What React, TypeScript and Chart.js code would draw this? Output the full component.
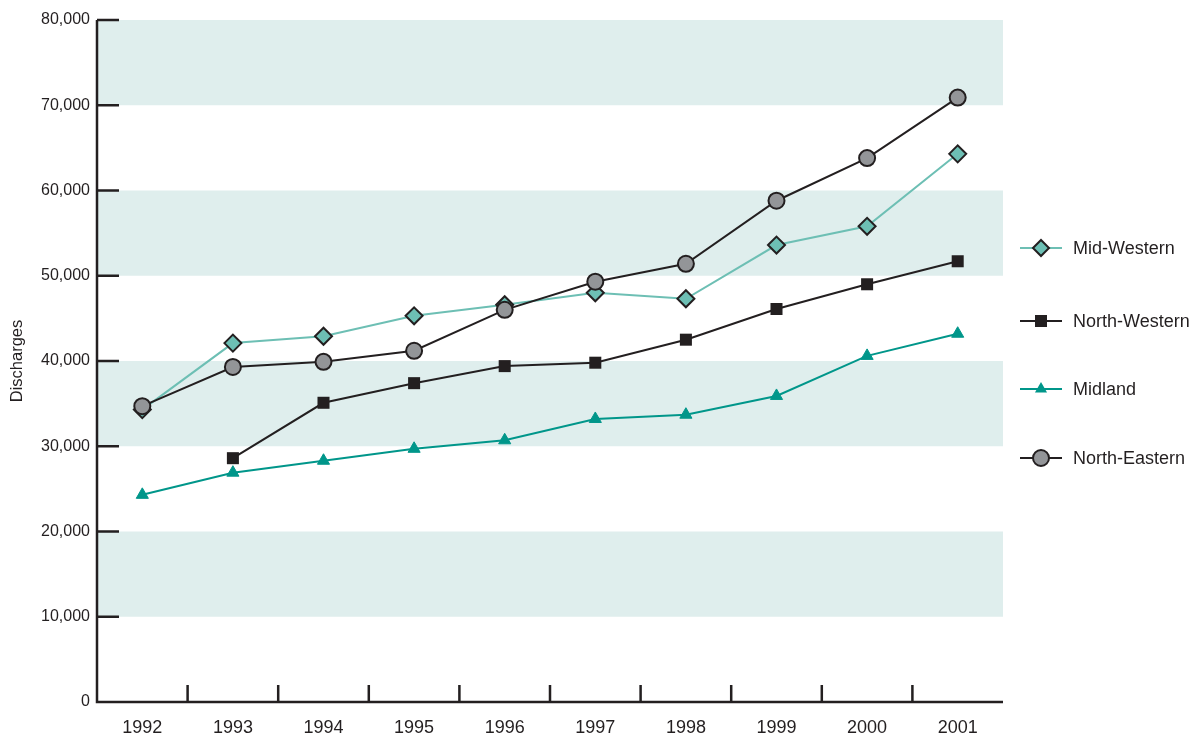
import React, { useEffect, useRef } from "react";
import { Chart, registerables } from "chart.js";

Chart.register(...registerables);

const years = ["1992", "1993", "1994", "1995", "1996", "1997", "1998", "1999", "2000", "2001"];
const midWestern = [34300, 42100, 42900, 45300, 46600, 48000, 47300, 53600, 55800, 64300];
const northWestern = [null, 28600, 35100, 37400, 39400, 39800, 42500, 46100, 49000, 51700];
const midland = [24300, 26900, 28300, 29700, 30700, 33200, 33700, 35900, 40600, 43200];
const northEastern = [34700, 39300, 39900, 41200, 46000, 49300, 51400, 58800, 63800, 70900];
const bands = [
  [10000, 20000],
  [30000, 40000],
  [50000, 60000],
  [70000, 80000],
];
const yTicks = [10000, 20000, 30000, 40000, 50000, 60000, 70000, 80000];

const DARK = "#231f20";
const TEAL_LIGHT = "#6dbfb4";
const TEAL_DARK = "#00968a";
const GRAY = "#939598";
const BAND = "#dfeeed";
const FONT = "'Liberation Sans Narrow', 'Liberation Sans', Arial, sans-serif";

type LegendItem = { label: string; color: string; fill: string; shape: string; r: number; y: number };
const legendItems: LegendItem[] = [
  { label: "Mid-Western", color: TEAL_LIGHT, fill: TEAL_LIGHT, shape: "diamond", r: 8, y: 248 },
  { label: "North-Western", color: DARK, fill: DARK, shape: "square", r: 6, y: 321 },
  { label: "Midland", color: TEAL_DARK, fill: TEAL_DARK, shape: "triangle", r: 7, y: 389 },
  { label: "North-Eastern", color: DARK, fill: GRAY, shape: "circle", r: 8, y: 458 },
];

const decoPlugin = {
  id: "deco",
  beforeDatasetsDraw(chart: any) {
    const { ctx, chartArea } = chart;
    const y = chart.scales.y;
    ctx.save();
    ctx.fillStyle = BAND;
    bands.forEach(([a, b]) => {
      const y1 = y.getPixelForValue(b);
      const y2 = y.getPixelForValue(a);
      ctx.fillRect(chartArea.left, y1, chartArea.right - chartArea.left, y2 - y1);
    });
    ctx.restore();
  },
  afterDatasetsDraw(chart: any) {
    const { ctx, chartArea } = chart;
    const x = chart.scales.x;
    const y = chart.scales.y;
    ctx.save();
    ctx.strokeStyle = DARK;
    ctx.lineWidth = 2.5;
    ctx.beginPath();
    ctx.moveTo(chartArea.left, chartArea.top);
    ctx.lineTo(chartArea.left, chartArea.bottom);
    ctx.lineTo(chartArea.right, chartArea.bottom);
    ctx.stroke();
    ctx.beginPath();
    yTicks.forEach((v) => {
      const py = y.getPixelForValue(v);
      ctx.moveTo(chartArea.left, py);
      ctx.lineTo(chartArea.left + 22, py);
    });
    for (let i = 1; i < years.length; i++) {
      const px = (x.getPixelForValue(i - 1) + x.getPixelForValue(i)) / 2;
      ctx.moveTo(px, chartArea.bottom);
      ctx.lineTo(px, chartArea.bottom - 17);
    }
    ctx.stroke();

    // y title
    ctx.fillStyle = DARK;
    ctx.font = `16.5px ${FONT}`;
    ctx.textAlign = "center";
    ctx.textBaseline = "middle";
    ctx.save();
    ctx.translate(17, 361);
    ctx.rotate(-Math.PI / 2);
    ctx.fillText("Discharges", 0, 0);
    ctx.restore();

    // legend
    legendItems.forEach((it) => {
      const cx = 1041;
      const cy = it.y;
      ctx.strokeStyle = it.color;
      ctx.lineWidth = 2;
      ctx.beginPath();
      ctx.moveTo(1020, cy);
      ctx.lineTo(1062, cy);
      ctx.stroke();
      ctx.fillStyle = it.fill;
      ctx.strokeStyle = DARK;
      ctx.lineWidth = 2;
      ctx.beginPath();
      if (it.shape === "diamond") {
        ctx.moveTo(cx - it.r, cy);
        ctx.lineTo(cx, cy - it.r);
        ctx.lineTo(cx + it.r, cy);
        ctx.lineTo(cx, cy + it.r);
        ctx.closePath();
        ctx.fill();
        ctx.stroke();
      } else if (it.shape === "square") {
        ctx.rect(cx - it.r, cy - it.r, it.r * 2, it.r * 2);
        ctx.fill();
      } else if (it.shape === "triangle") {
        ctx.moveTo(cx, cy - it.r);
        ctx.lineTo(cx + it.r * 0.866, cy + it.r * 0.5);
        ctx.lineTo(cx - it.r * 0.866, cy + it.r * 0.5);
        ctx.closePath();
        ctx.fill();
      } else {
        ctx.arc(cx, cy, it.r, 0, Math.PI * 2);
        ctx.fill();
        ctx.stroke();
      }
      ctx.fillStyle = DARK;
      ctx.font = `18px ${FONT}`;
      ctx.textAlign = "left";
      ctx.textBaseline = "middle";
      ctx.fillText(it.label, 1073, cy + 1);
    });
    ctx.restore();
  },
};

export default function App() {
  const ref = useRef<HTMLCanvasElement | null>(null);
  useEffect(() => {
    if (!ref.current) return;
    const chart = new Chart(ref.current, {
      type: "line",
      data: {
        labels: years,
        datasets: [
          {
            label: "North-Eastern",
            data: northEastern,
            borderColor: DARK,
            borderWidth: 2,
            pointStyle: "circle",
            pointRadius: 8,
            pointBackgroundColor: GRAY,
            pointBorderColor: DARK,
            pointBorderWidth: 2,
            order: 1,
          },
          {
            label: "Mid-Western",
            data: midWestern,
            borderColor: TEAL_LIGHT,
            borderWidth: 2,
            pointStyle: "rectRot",
            pointRadius: 8.5,
            pointBackgroundColor: TEAL_LIGHT,
            pointBorderColor: DARK,
            pointBorderWidth: 2,
            order: 2,
          },
          {
            label: "North-Western",
            data: northWestern,
            borderColor: DARK,
            borderWidth: 2,
            pointStyle: "rect",
            pointRadius: 8.5,
            pointBackgroundColor: DARK,
            pointBorderColor: DARK,
            pointBorderWidth: 0,
            order: 3,
          },
          {
            label: "Midland",
            data: midland,
            borderColor: TEAL_DARK,
            borderWidth: 2,
            pointStyle: "triangle",
            pointRadius: 7,
            pointBackgroundColor: TEAL_DARK,
            pointBorderColor: TEAL_DARK,
            pointBorderWidth: 1,
            order: 4,
          },
        ] as any,
      },
      options: {
        animation: false,
        responsive: false,
        devicePixelRatio: 1,
        layout: { padding: { left: 0, right: 192, top: 20, bottom: 0 } },
        plugins: { legend: { display: false }, tooltip: { enabled: false } },
        elements: { line: { tension: 0 } },
        datasets: { line: { clip: false, spanGaps: false } } as any,
        scales: {
          x: {
            type: "category",
            offset: true,
            grid: { display: false, drawTicks: false },
            border: { display: false },
            ticks: { color: DARK, font: { family: FONT, size: 18 }, padding: 15, maxRotation: 0 },
            afterFit: (s: any) => {
              s.height = 38;
            },
          },
          y: {
            min: 0,
            max: 80000,
            grid: { display: false, drawTicks: false },
            border: { display: false },
            ticks: {
              stepSize: 10000,
              color: DARK,
              font: { family: FONT, size: 16 },
              padding: 7,
              callback: (v: any) => Number(v).toLocaleString("en-US"),
            },
            afterFit: (s: any) => {
              s.width = 97;
            },
          },
        },
      },
      plugins: [decoPlugin],
    });
    return () => chart.destroy();
  }, []);
  return (
    <div style={{ position: "absolute", left: 0, top: 0, width: 1195, height: 740 }}>
      <canvas ref={ref} width={1195} height={740} style={{ width: 1195, height: 740 }} />
    </div>
  );
}
